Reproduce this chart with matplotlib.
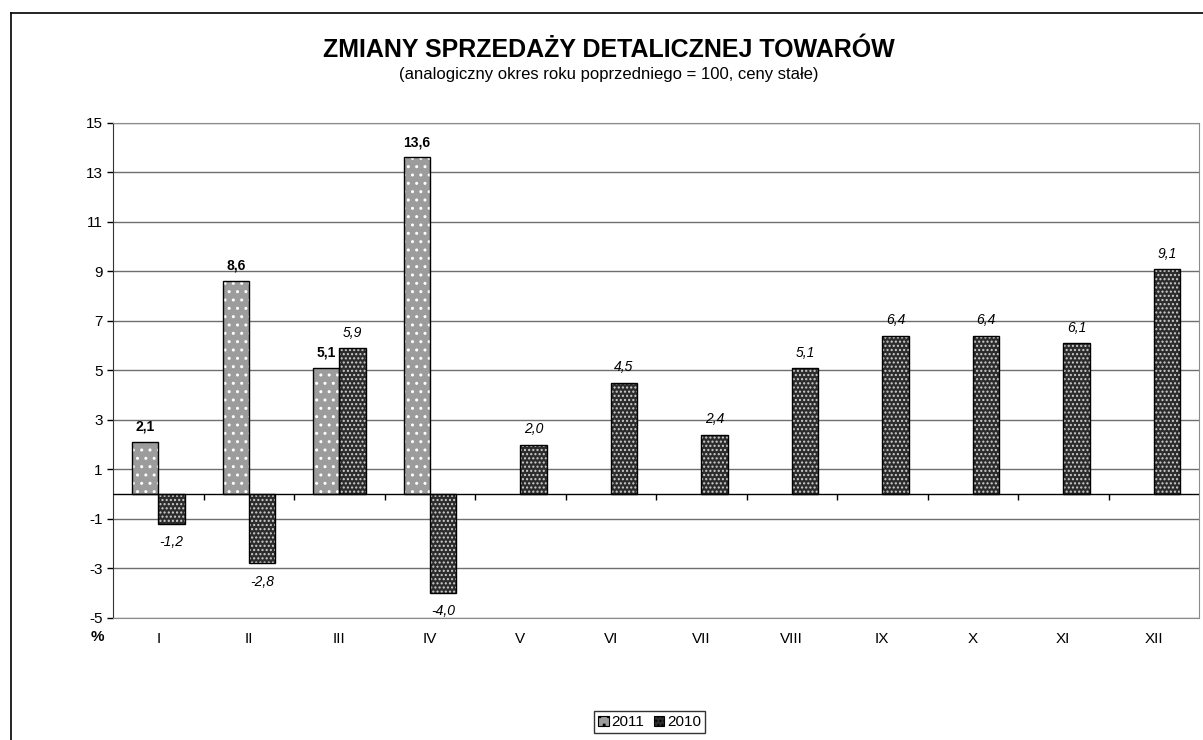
import numpy as np
import matplotlib.pyplot as plt
from matplotlib.lines import Line2D
from matplotlib.patches import Patch

plt.rcParams['font.family'] = ['Liberation Sans', 'DejaVu Sans']
plt.rcParams['hatch.linewidth'] = 1.0
plt.rcParams['axes.unicode_minus'] = False

months = ['I', 'II', 'III', 'IV', 'V', 'VI', 'VII', 'VIII', 'IX', 'X', 'XI', 'XII']
y2011 = [2.1, 8.6, 5.1, 13.6]
y2010 = [-1.2, -2.8, 5.9, -4.0, 2.0, 4.5, 2.4, 5.1, 6.4, 6.4, 6.1, 9.1]

fig = plt.figure(figsize=(12.03, 7.40), dpi=100)
ax = fig.add_axes([0.094, 0.165, 0.9027, 0.669])

w = 0.29
x11 = np.arange(len(y2011)) - w / 2
x10 = np.arange(len(y2010)) + w / 2

# hatched fills first, black outlines on top
ax.bar(x11, y2011, w, color='#9c9c9c', hatch='..', edgecolor='white', linewidth=0, zorder=3)
ax.bar(x11, y2011, w, facecolor='none', edgecolor='black', linewidth=1, zorder=4)
ax.bar(x10, y2010, w, color='#2c2c2c', hatch='....', edgecolor='#cfcfcf', linewidth=0, zorder=3)
ax.bar(x10, y2010, w, facecolor='none', edgecolor='black', linewidth=1, zorder=4)

for x, v in zip(x11, y2011):
    ax.annotate(f'{v:.1f}'.replace('.', ','), (x, v), xytext=(0, 6), textcoords='offset points',
                ha='center', va='bottom', fontsize=10, fontweight='bold')
for x, v in zip(x10, y2010):
    if v >= 0:
        ax.annotate(f'{v:.1f}'.replace('.', ','), (x, v), xytext=(0, 6), textcoords='offset points',
                    ha='center', va='bottom', fontsize=10, style='italic')
    else:
        ax.annotate(f'{v:.1f}'.replace('.', ','), (x, v), xytext=(0, -8), textcoords='offset points',
                    ha='center', va='top', fontsize=10, style='italic')

ax.set_xlim(-0.5, len(months) - 0.5)
ax.set_ylim(-5, 15)
ax.set_yticks(range(-5, 16, 2))
ax.tick_params(axis='y', labelsize=11, length=4, width=1)
ax.set_xticks(range(len(months)))
ax.set_xticklabels(months, fontsize=11)
ax.tick_params(axis='x', length=0, pad=10)

ax.yaxis.grid(True, color='#6e6e6e', linewidth=1, zorder=0)
ax.set_axisbelow(True)
ax.axhline(0, color='black', linewidth=1, zorder=5)
ax.vlines(np.arange(len(months) - 1) + 0.5, -0.25, 0, color='black', linewidth=1, zorder=5)

for s in ['top', 'right', 'bottom']:
    ax.spines[s].set_color('#8c8c8c')
ax.spines['left'].set_color('#333333')

fig.text(0.0806, 0.139, '%', fontsize=11, fontweight='bold', ha='center', va='center')

fig.text(0.506, 0.932, 'ZMIANY SPRZEDAŻY DETALICZNEJ TOWARÓW', fontsize=18,
         fontweight='bold', ha='center', va='center')
fig.text(0.506, 0.899, '(analogiczny okres roku poprzedniego = 100, ceny stałe)', fontsize=12,
         ha='center', va='center')

# outer chart frame
fig.add_artist(Line2D([0.0091, 0.0091], [0.0, 0.982], color='black', linewidth=1.2))
fig.add_artist(Line2D([0.0091, 1.0], [0.982, 0.982], color='black', linewidth=1.2))

h11 = Patch(facecolor='#9c9c9c', hatch='..', edgecolor='black', linewidth=0.8)
h10 = Patch(facecolor='#2c2c2c', hatch='....', edgecolor='black', linewidth=0.8)
leg = fig.legend(handles=[h11, h10], labels=['2011', '2010'],
                 loc='center', bbox_to_anchor=(0.54, 0.024), ncol=2, fontsize=11,
                 frameon=True, fancybox=False, edgecolor='black', handlelength=0.7,
                 handleheight=0.7, handletextpad=0.2, columnspacing=0.6, borderpad=0.25)
leg.get_frame().set_linewidth(1)

fig.savefig('out.png', dpi=100)
